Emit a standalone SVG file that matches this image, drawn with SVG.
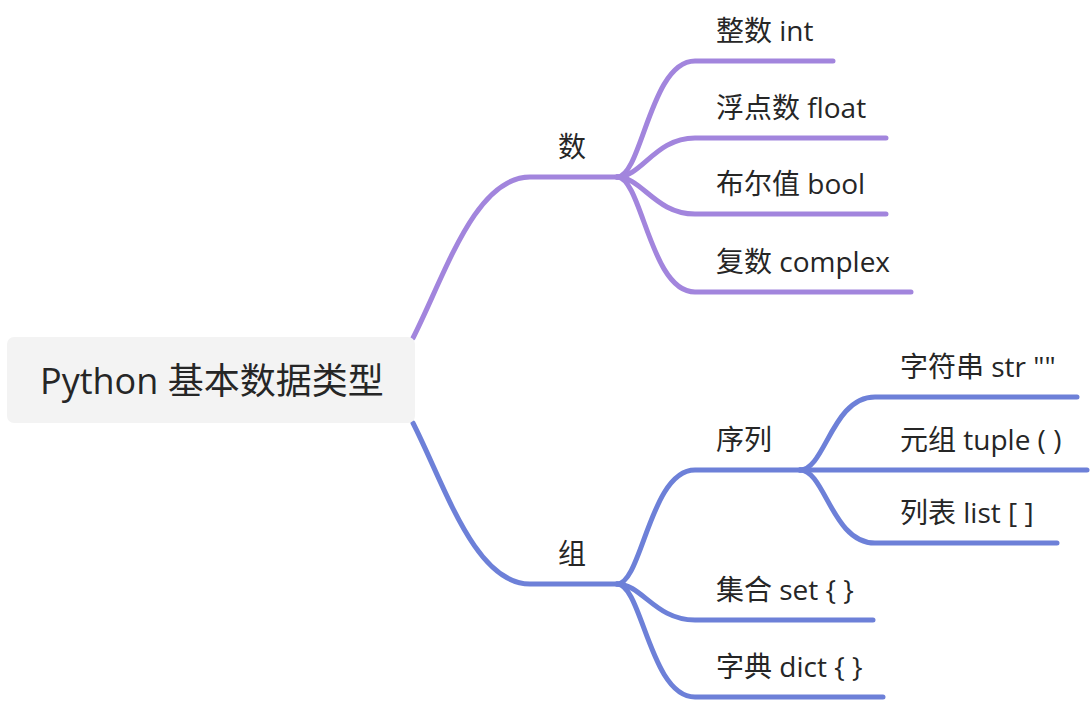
<svg xmlns="http://www.w3.org/2000/svg" width="1092" height="702" viewBox="0 0 1092 702">
<style>
text{font-family:"Open Sans","Noto Sans CJK SC",sans-serif;fill:#262626}
.t{font-size:28px}
.root{font-size:36px}
.c path{fill:none;stroke-width:5;stroke-linecap:round;stroke-linejoin:round}
.p{stroke:#a285dd}
.b{stroke:#6d80d8}
</style>
<rect width="1092" height="702" fill="#ffffff"/>
<g id="connectors" class="c">
<path class="p" d="M413,338 C445,275 475,177 530,177 L617,177"/>
<path class="p" d="M617,177 C642,177 650,61 695,61 L833,61"/>
<path class="p" d="M617,177 C642,177 655,138 695,138 L886,138"/>
<path class="p" d="M617,177 C642,177 655,214 695,214 L886,214"/>
<path class="p" d="M617,177 C642,177 650,292 695,292 L911,292"/>
<path class="b" d="M413,423 C445,486 475,584 530,584 L617,584"/>
<path class="b" d="M617,584 C642,584 650,470 695,470 L800,470"/>
<path class="b" d="M617,584 C642,584 655,620 695,620 L873,620"/>
<path class="b" d="M617,584 C642,584 650,697 695,697 L883,697"/>
<path class="b" d="M800,470 C825,470 832,397 875,397 L1077,397"/>
<path class="b" d="M800,470 L1087,470"/>
<path class="b" d="M800,470 C825,470 832,543 875,543 L1057,543"/>
</g>
<g id="root">
<rect x="7" y="337" width="408" height="86" rx="7" fill="#f3f3f3"/>
<text class="root" x="40" y="394">Python 基本数据类型</text>
</g>
<g id="n-shu"><text class="t" x="558" y="157">数</text></g>
<g id="n-int"><text class="t" x="716" y="41">整数 int</text></g>
<g id="n-float"><text class="t" x="716" y="118">浮点数 float</text></g>
<g id="n-bool"><text class="t" x="716" y="194">布尔值 bool</text></g>
<g id="n-complex"><text class="t" x="716" y="272">复数 complex</text></g>
<g id="n-zu"><text class="t" x="558" y="564">组</text></g>
<g id="n-seq"><text class="t" x="716" y="450">序列</text></g>
<g id="n-str"><text class="t" x="900" y="377">字符串 str ""</text></g>
<g id="n-tuple"><text class="t" x="900" y="450">元组 tuple ( )</text></g>
<g id="n-list"><text class="t" x="900" y="523">列表 list [ ]</text></g>
<g id="n-set"><text class="t" x="716" y="600">集合 set { }</text></g>
<g id="n-dict"><text class="t" x="716" y="677">字典 dict { }</text></g>
</svg>
